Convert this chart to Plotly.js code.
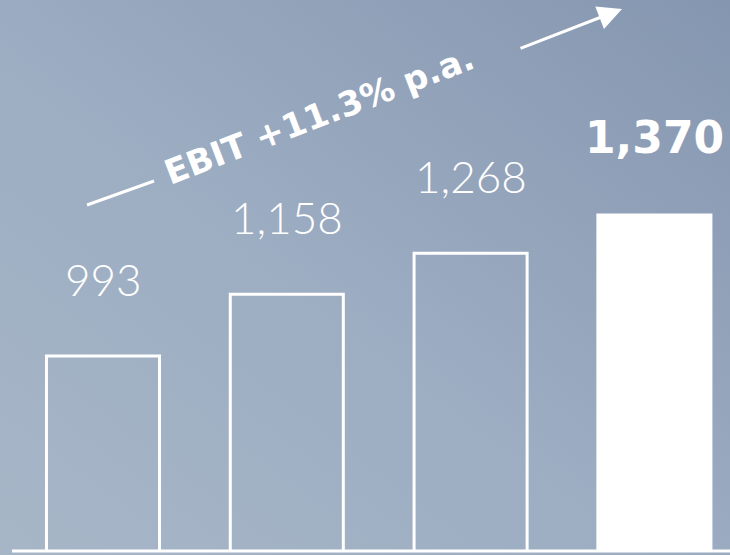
<!DOCTYPE html>
<html>
<head>
<meta charset="utf-8">
<script src="https://cdn.plot.ly/plotly-3.0.1.min.js"></script>
<style>
  html, body { margin: 0; padding: 0; width: 730px; height: 555px; overflow: hidden; }
  body { background: linear-gradient(to top right, #a7b6c7 0%, #9dadc2 45%, #8596b0 100%); }
  #chart { width: 730px; height: 555px; }
</style>
</head>
<body>
<div id="chart"></div>
<script>
// Data
const categories = [0, 1, 2, 3];
const ebitValues = [993, 1158, 1268, 1370];
const growthLabel = "EBIT +11.3% p.a.";
const highlightIndex = 3;

const fills = ebitValues.map((v, i) => i === highlightIndex ? '#ffffff' : 'rgba(0,0,0,0)');

const trace = {
  type: 'bar',
  x: categories,
  y: ebitValues,
  width: 0.615,
  marker: { color: fills, line: { color: '#ffffff', width: 3 } },
  hoverinfo: 'skip'
};

const valueAnnotations = ebitValues.map((v, i) => ({
  x: categories[i],
  y: v,
  xref: 'x',
  yref: 'y',
  text: v.toLocaleString('en-US'),
  showarrow: false,
  yanchor: 'middle',
  yshift: i === highlightIndex ? 78 : 77,
  font: i === highlightIndex
    ? { family: '"DejaVu Sans", sans-serif', size: 44, weight: 700, color: '#ffffff' }
    : { family: 'Lato, sans-serif', size: 44, weight: 300, color: '#ffffff' }
}));

const W = 730, H = 555, plotH = 551;
const px = (x) => x / W;
const py = (y) => (plotH - y) / plotH;

const annotations = valueAnnotations.concat([
  {
    xref: 'paper', yref: 'paper',
    x: px(319), y: py(115),
    text: growthLabel,
    showarrow: false,
    textangle: -21,
    xanchor: 'center', yanchor: 'middle',
    font: { family: '"DejaVu Sans", sans-serif', size: 34, weight: 700, color: '#ffffff' }
  },
  {
    xref: 'paper', yref: 'paper',
    x: px(622), y: py(9),
    ax: -103, ay: 40,
    axref: 'pixel', ayref: 'pixel',
    text: '',
    showarrow: true,
    arrowhead: 2,
    arrowsize: 1.6,
    arrowwidth: 3,
    arrowcolor: '#ffffff'
  }
]);

const layout = {
  width: W,
  height: H,
  margin: { l: 0, r: 0, t: 0, b: 4, pad: 0 },
  paper_bgcolor: 'rgba(0,0,0,0)',
  plot_bgcolor: 'rgba(0,0,0,0)',
  showlegend: false,
  bargap: 0,
  xaxis: { range: [-0.5604, 3.4113], visible: false, fixedrange: true },
  yaxis: { range: [471.6, 1945], visible: false, fixedrange: true },
  annotations: annotations,
  shapes: [
    {
      type: 'line', xref: 'paper', yref: 'paper',
      x0: px(12), x1: 1, y0: 0, y1: 0,
      line: { color: '#ffffff', width: 3 }
    },
    {
      type: 'line', xref: 'paper', yref: 'paper',
      x0: px(87), y0: py(205), x1: px(154), y1: py(181),
      line: { color: '#ffffff', width: 3 }
    }
  ]
};

Plotly.newPlot('chart', [trace], layout, { displayModeBar: false, staticPlot: true });
</script>
</body>
</html>
